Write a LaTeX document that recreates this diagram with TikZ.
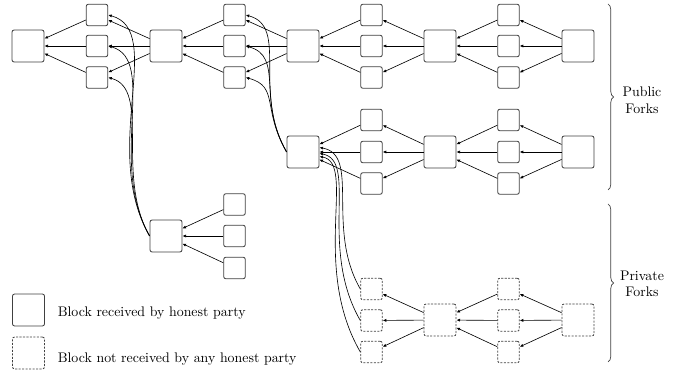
\documentclass[tikz,border=0pt]{standalone}
\usetikzlibrary{arrows.meta,decorations.pathreplacing,calc}
\begin{document}
\begin{tikzpicture}[x=0.72pt,y=0.72pt,
  blk/.style={draw=black!75, line width=0.6pt, rounded corners=1.5pt, inner sep=0pt, fill=white},
  big/.style={blk, minimum size=23pt},
  sml/.style={blk, minimum size=15.5pt},
  priv/.style={dash pattern=on 1.5pt off 1pt},
  arr/.style={-{Latex[length=2.6pt,width=2.2pt]}, line width=0.45pt},
  brc/.style={decorate, decoration={brace, amplitude=4pt}, line width=0.5pt, draw=black!75}]
\useasboundingbox (0,0) rectangle (689,371);

% ---- top public chain
\node[big] (B0) at (28,325) {};
\node[big] (B1) at (166,325) {};
\node[big] (B2) at (303,325) {};
\node[big] (B3) at (440,325) {};
\node[big] (B4) at (578,325) {};
\foreach \n/\y in {1/356,2/325,3/293.5} {
  \node[sml] (a\n) at (97,\y) {};
  \node[sml] (b\n) at (234.5,\y) {};
  \node[sml] (c\n) at (371.5,\y) {};
  \node[sml] (d\n) at (508.5,\y) {};
}
% ---- second public chain
\node[big] (B5) at (303,219) {};
\node[big] (B6) at (440,219) {};
\node[big] (B7) at (578,219) {};
\foreach \n/\y in {1/251,2/219,3/187.5} {
  \node[sml] (e\n) at (371.5,\y) {};
  \node[sml] (f\n) at (508.5,\y) {};
}
% ---- third public fork
\node[big] (B8) at (166,135) {};
\foreach \n/\y in {1/166.5,2/135,3/103} {
  \node[sml] (g\n) at (234.5,\y) {};
}
% ---- private chain
\node[big,priv] (P1) at (440,51) {};
\node[big,priv] (P2) at (578,51) {};
\foreach \n/\y in {1/82,2/50.5,3/19} {
  \node[sml,priv] (p\n) at (371.5,\y) {};
  \node[sml,priv] (q\n) at (508.5,\y) {};
}

% ---- straight references
\foreach \n in {1,2,3} {
  \draw[arr] (a\n) -- (B0);
  \draw[arr] (B1) -- (a\n);
  \draw[arr] (b\n) -- (B1);
  \draw[arr] (B2) -- (b\n);
  \draw[arr] (c\n) -- (B2);
  \draw[arr] (B3) -- (c\n);
  \draw[arr] (d\n) -- (B3);
  \draw[arr] (B4) -- (d\n);
  \draw[arr] (e\n) -- (B5);
  \draw[arr] (B6) -- (e\n);
  \draw[arr] (f\n) -- (B6);
  \draw[arr] (B7) -- (f\n);
  \draw[arr] (g\n) -- (B8);
  \draw[arr] (P1) -- (p\n);
  \draw[arr] (q\n) -- (P1);
  \draw[arr] (P2) -- (q\n);
}

% ---- curved references
\draw[arr] (B8.west) .. controls +(120:100) and +(-15:60) .. (a1.east);
\draw[arr] (B8.west) .. controls +(120:85) and +(-15:52) .. (a2.east);
\draw[arr] (B8.west) .. controls +(120:70) and +(-15:45) .. (a3.east);

\draw[arr] (B5.west) .. controls +(120:70) and +(-15:45) .. (b1.east);
\draw[arr] (B5.west) .. controls +(120:60) and +(-15:40) .. (b2.east);
\draw[arr] (B5.west) .. controls +(120:50) and +(-15:35) .. (b3.east);

\coordinate (k1) at ($(B5.east)+(0,4.5)$);
\coordinate (k2) at ($(B5.east)+(0,-1.5)$);
\coordinate (k3) at ($(B5.east)+(0,-4.5)$);
\draw[arr] (p1.west) .. controls +(120:70) and +(-10:42) .. (k1);
\draw[arr] (p2.west) .. controls +(120:85) and +(-10:40) .. (k2);
\draw[arr] (p3.west) .. controls +(120:100) and +(-10:38) .. (k3);

% ---- braces
\coordinate (u1) at (608,367);
\coordinate (u2) at (608,181);
\coordinate (v1) at (608,167);
\coordinate (v2) at (608,9);
\draw[brc] (u1) -- (u2);
\draw[brc] (v1) -- (v2);
\node[align=center, inner sep=0pt] (pubt) at (642,271) {Public\\Forks};
\node[align=center, inner sep=0pt] (prvt) at (642,87) {Private\\Forks};

% ---- legend
\node[big] (L1) at (28.5,61) {};
\node[big,priv] (L2) at (28.5,18) {};
\node[anchor=base west, inner sep=0pt] (T1) at (57.5,54.5) {Block received by honest party};
\node[anchor=base west, inner sep=0pt] (T2) at (57.5,8.5) {Block not received by any honest party};
\end{tikzpicture}
\end{document}
